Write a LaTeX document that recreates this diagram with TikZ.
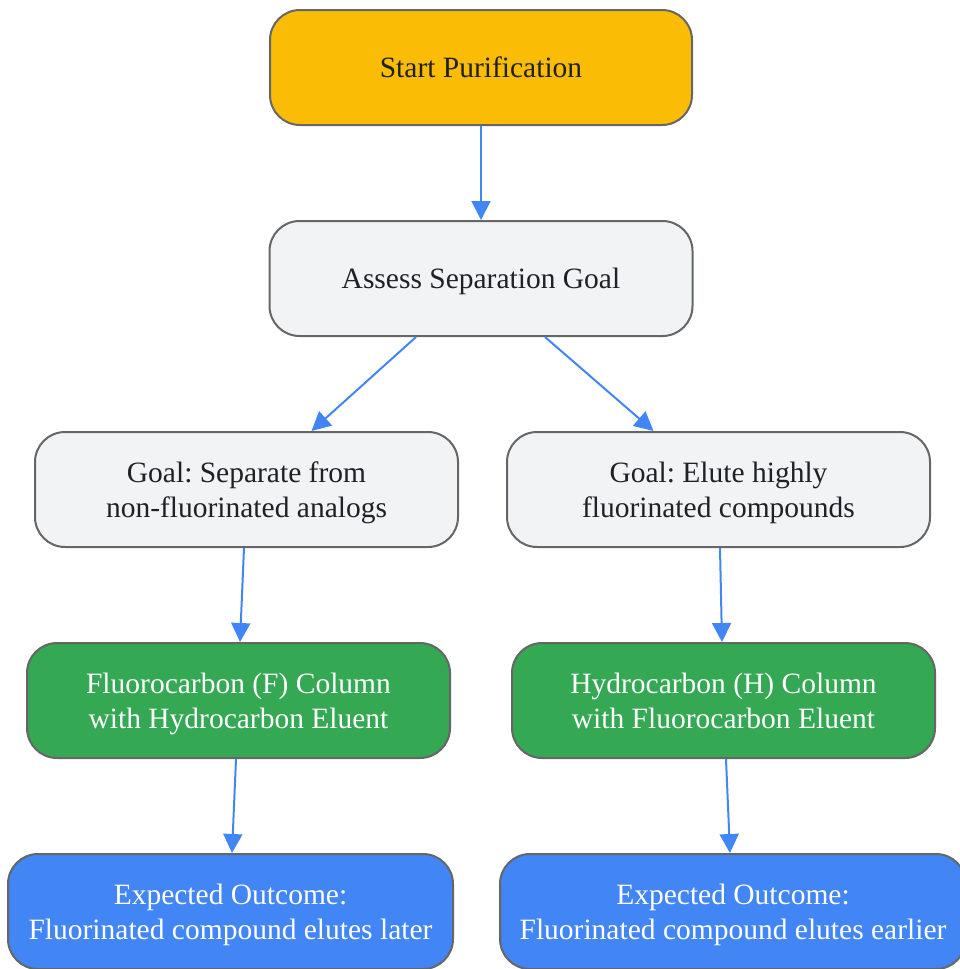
\documentclass[tikz,border=0pt]{standalone}
\usepackage{fontspec}
\setmainfont{Liberation Serif}
\frenchspacing
\usetikzlibrary{arrows.meta,calc}
\definecolor{yel}{HTML}{FABC05}
\definecolor{lgray}{HTML}{F1F3F4}
\definecolor{grn}{HTML}{34A853}
\definecolor{blu}{HTML}{4285F4}
\definecolor{edge}{HTML}{666666}
\definecolor{txt}{HTML}{202124}
\newcommand\mystrut{\rule[-7.5pt]{0pt}{35.5pt}}
\begin{document}
\begin{tikzpicture}[x=1pt,y=-1pt,
  box/.style={draw=edge,line width=2pt,rounded corners=30pt,align=center,
    inner sep=0pt,minimum height=115pt,font=\fontsize{29.5}{35.5}\selectfont},
  ybox/.style={box,fill=yel,text=txt,minimum width=422pt},
  gbox/.style={box,fill=lgray,text=txt,minimum width=423pt},
  grbox/.style={box,fill=grn,text=white,minimum width=423pt},
  bbox/.style={box,fill=blu,text=white},
  conn/.style={draw=blu,line width=2pt,-{Triangle[length=19pt,width=19pt]}}]
\useasboundingbox (0,0) rectangle (959,969);
\node[ybox] (start) at (481,67.5) {\mystrut Start Purification};
\node[gbox] (assess) at (481,278.5) {\mystrut Assess Separation Goal};
\node[gbox] (gl) at (246.5,489.5) {\mystrut Goal: Separate from\\\mystrut non-fluorinated analogs};
\node[gbox] (gr) at (718.5,489.5) {\mystrut Goal: Elute highly\\\mystrut fluorinated compounds};
\node[grbox] (fc) at (238.5,700.5) {\mystrut Fluorocarbon (F) Column\\\mystrut with Hydrocarbon Eluent};
\node[grbox] (hc) at (723.5,700.5) {\mystrut Hydrocarbon (H) Column\\\mystrut with Fluorocarbon Eluent};
\node[bbox,minimum width=445pt] (ol) at (230.5,911.5) {\mystrut Expected Outcome:\\\mystrut Fluorinated compound elutes later};
\node[bbox,minimum width=466pt] (or) at (733,911.5) {\mystrut Expected Outcome:\\\mystrut Fluorinated compound elutes earlier};
\draw[conn] (start.south) -- (assess.north);
\draw[conn] ($(assess.south)+(-65,0)$) -- ($(gl.north)+(65,0)$);
\draw[conn] ($(assess.south)+(64,0)$) -- ($(gr.north)+(-65,0)$);
\draw[conn] ($(gl.south)+(-2.5,0)$) -- ($(fc.north)+(1.5,0)$);
\draw[conn] ($(gr.south)+(1.5,0)$) -- ($(hc.north)+(-1.5,0)$);
\draw[conn] ($(fc.south)+(-2.5,0)$) -- ($(ol.north)+(1.5,0)$);
\draw[conn] ($(hc.south)+(2.5,0)$) -- ($(or.north)+(-3,0)$);
\end{tikzpicture}
\end{document}
